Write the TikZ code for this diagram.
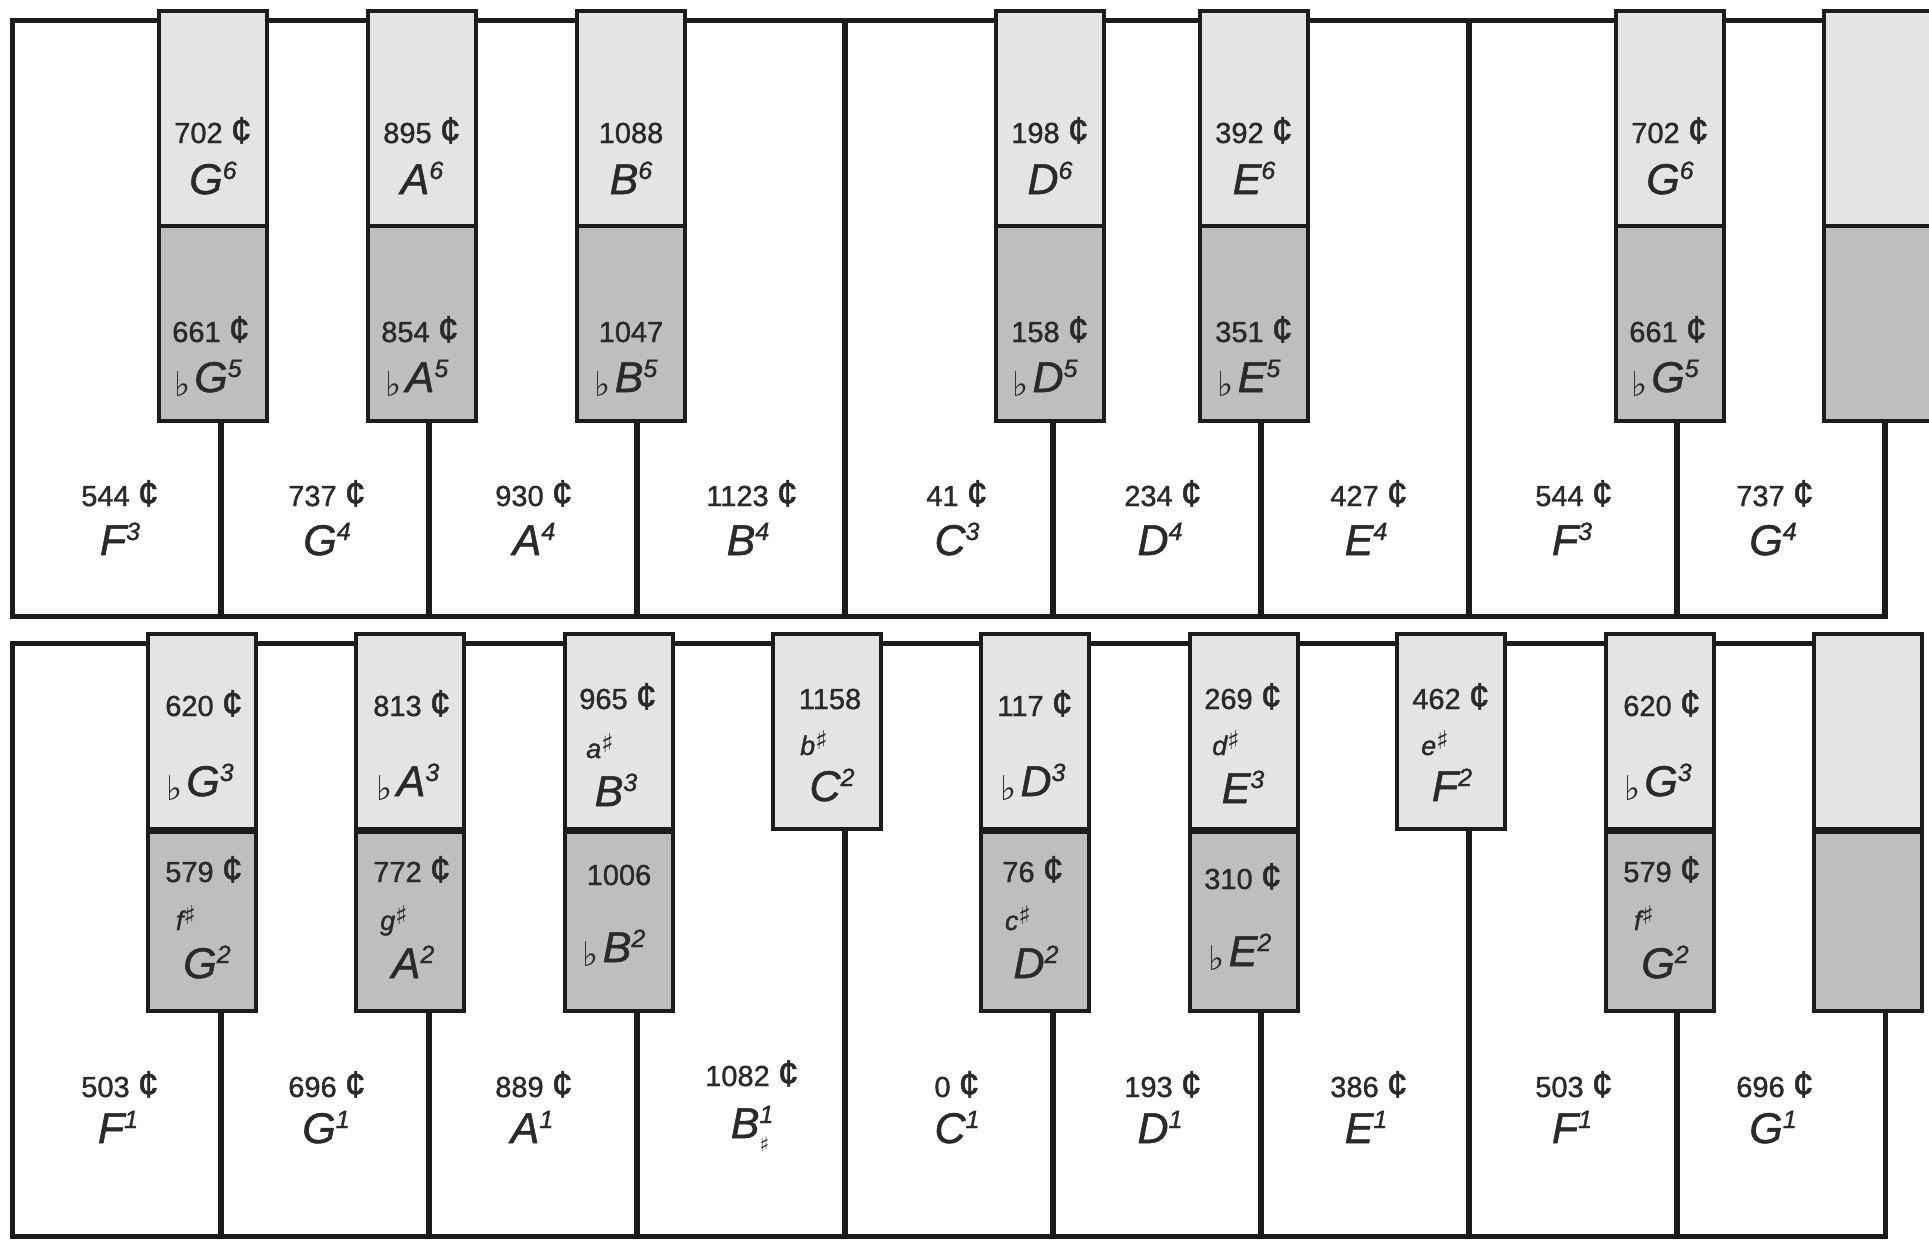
\documentclass[tikz,border=0pt]{standalone}
\usepackage{fontspec}
\usepackage{graphicx}
\setmainfont{Liberation Sans}[
  BoldFont=Liberation Sans, BoldFeatures={FakeBold=1.2},
  BoldItalicFont=Liberation Sans Italic, BoldItalicFeatures={FakeBold=1.2}]
\newfontfamily\symf{DejaVu Sans}
\definecolor{lightk}{HTML}{E4E4E4}
\definecolor{darkk}{HTML}{BEBEBE}
\definecolor{ink}{HTML}{2A2A2A}
\definecolor{edge}{HTML}{1C1C1C}
% cents value
\newcommand\cv[1]{#1 \scalebox{1.3}{¢}}
% note letter with octave superscript
\newcommand\nt[2]{{\fontsize{43}{43}\selectfont\itshape #1}\raisebox{15pt}{\fontsize{25}{25}\selectfont\itshape #2}}
% flat sign before a note
\newcommand\flt{\raisebox{-4pt}{\symf\fontsize{34}{34}\selectfont ♭}\hspace{4pt}}
% small sharp name
\newcommand\shp[1]{{\fontsize{27}{27}\selectfont\itshape #1}\raisebox{6pt}{\symf\fontsize{26}{26}\selectfont ♯}}
\tikzset{
  frame/.style={draw=edge, line width=5pt},
  sepline/.style={draw=edge, line width=6pt},
  lighthalf/.style={draw=edge, line width=4.5pt, fill=lightk},
  darkhalf/.style={draw=edge, line width=4.5pt, fill=darkk},
  midline/.style={draw=edge, line width=7pt},
  cents/.style={anchor=base, inner sep=0pt, text=ink, font=\fontsize{29}{29}\selectfont\bfseries},
  note/.style={anchor=base, inner sep=0pt, text=ink, font=\bfseries},
}
\begin{document}
\begin{tikzpicture}[x=1pt,y=-1pt]
\useasboundingbox (0,0) rectangle (1929,1239);
\fill[white] (0,0) rectangle (1929,1239);

% ================= TOP KEYBOARD =================
\draw[frame] (12.5,21) rectangle (1885.4,616);
\draw[sepline] (844.9,21) -- (844.9,616);
\draw[sepline] (1469.2,21) -- (1469.2,616);
\foreach \b in {220.6,428.7,636.8,1053.0,1261.1,1677.3,1885.4}
  \draw[sepline] (\b,421) -- (\b,616);
% black keys (top)
\foreach \c in {213,422,631,1050,1254,1670,1878}{
  \path[lighthalf] (\c-54,11) rectangle (\c+54,226);
  \path[darkhalf] (\c-54,226) rectangle (\c+54,421);
}

% top black key texts
\node[cents] (t1a) at (213,143) {\cv{702}};
\node[note]  (t1b) at (213,194) {\nt{G}{6}};
\node[cents] (t1c) at (211,342) {\cv{661}};
\node[note]  (t1d) at (208,392) {\flt\nt{G}{5}};

\node[cents] (t2a) at (422,143) {\cv{895}};
\node[note]  (t2b) at (422,194) {\nt{A}{6}};
\node[cents] (t2c) at (420,342) {\cv{854}};
\node[note]  (t2d) at (417,392) {\flt\nt{A}{5}};

\node[cents] (t3a) at (631,143) {1088};
\node[note]  (t3b) at (631,194) {\nt{B}{6}};
\node[cents] (t3c) at (631,342) {1047};
\node[note]  (t3d) at (626,392) {\flt\nt{B}{5}};

\node[cents] (t4a) at (1050,143) {\cv{198}};
\node[note]  (t4b) at (1050,194) {\nt{D}{6}};
\node[cents] (t4c) at (1050,342) {\cv{158}};
\node[note]  (t4d) at (1045,392) {\flt\nt{D}{5}};

\node[cents] (t5a) at (1254,143) {\cv{392}};
\node[note]  (t5b) at (1254,194) {\nt{E}{6}};
\node[cents] (t5c) at (1254,342) {\cv{351}};
\node[note]  (t5d) at (1249,392) {\flt\nt{E}{5}};

\node[cents] (t6a) at (1670,143) {\cv{702}};
\node[note]  (t6b) at (1670,194) {\nt{G}{6}};
\node[cents] (t6c) at (1668,342) {\cv{661}};
\node[note]  (t6d) at (1665,392) {\flt\nt{G}{5}};

% top white key texts
\node[cents] (w1a) at (120,506) {\cv{544}};
\node[note]  (w1b) at (120,555) {\nt{F}{3}};
\node[cents] (w2a) at (327,506) {\cv{737}};
\node[note]  (w2b) at (327,555) {\nt{G}{4}};
\node[cents] (w3a) at (534,506) {\cv{930}};
\node[note]  (w3b) at (534,555) {\nt{A}{4}};
\node[cents] (w4a) at (752,506) {\cv{1123}};
\node[note]  (w4b) at (748,555) {\nt{B}{4}};
\node[cents] (w5a) at (957,506) {\cv{41}};
\node[note]  (w5b) at (957,555) {\nt{C}{3}};
\node[cents] (w6a) at (1163,506) {\cv{234}};
\node[note]  (w6b) at (1160,555) {\nt{D}{4}};
\node[cents] (w7a) at (1369,506) {\cv{427}};
\node[note]  (w7b) at (1366,555) {\nt{E}{4}};
\node[cents] (w8a) at (1574,506) {\cv{544}};
\node[note]  (w8b) at (1572,555) {\nt{F}{3}};
\node[cents] (w9a) at (1775,506) {\cv{737}};
\node[note]  (w9b) at (1773,555) {\nt{G}{4}};

% ================= BOTTOM KEYBOARD =================
\draw[frame] (12.5,643) rectangle (1885.4,1236);
\foreach \b in {220.6,428.7,636.8,1053.0,1261.1,1677.3}
  \draw[sepline] (\b,1011) -- (\b,1236);
\foreach \b in {844.9,1469.2}
  \draw[sepline] (\b,829) -- (\b,1236);
% double black keys (bottom)
\foreach \c in {202,410,619,1035,1244,1660,1868}{
  \path[lighthalf] (\c-54,634) rectangle (\c+54,830);
  \path[darkhalf] (\c-54,830) rectangle (\c+54,1011);
  \draw[midline] (\c-54,830) -- (\c+54,830);
}
% single keys (bottom)
\foreach \c in {827,1451}
  \path[lighthalf] (\c-54,634) rectangle (\c+54,829);

% bottom black key texts
\node[cents] (b1a) at (204,716) {\cv{620}};
\node[note]  (b1b) at (200,796) {\flt\nt{G}{3}};
\node[cents] (b1c) at (204,882) {\cv{579}};
\node[note]  (b1d) at (186,930) {\shp{f}};
\node[note]  (b1e) at (207,978) {\nt{G}{2}};

\node[cents] (b2a) at (412,716) {\cv{813}};
\node[note]  (b2b) at (408,796) {\flt\nt{A}{3}};
\node[cents] (b2c) at (412,882) {\cv{772}};
\node[note]  (b2d) at (394,930) {\shp{g}};
\node[note]  (b2e) at (413,978) {\nt{A}{2}};

\node[cents] (b3a) at (618,709) {\cv{965}};
\node[note]  (b3b) at (600,758) {\shp{a}};
\node[note]  (b3c) at (616,806) {\nt{B}{3}};
\node[cents] (b3d) at (619,885) {1006};
\node[note]  (b3e) at (614,962) {\flt\nt{B}{2}};

\node[cents] (b4a) at (830,709) {1158};
\node[note]  (b4b) at (814,755) {\shp{b}};
\node[note]  (b4c) at (832,801) {\nt{C}{2}};

\node[cents] (b5a) at (1035,716) {\cv{117}};
\node[note]  (b5b) at (1033,796) {\flt\nt{D}{3}};
\node[cents] (b5c) at (1033,882) {\cv{76}};
\node[note]  (b5d) at (1018,930) {\shp{c}};
\node[note]  (b5e) at (1036,978) {\nt{D}{2}};

\node[cents] (b6a) at (1243,709) {\cv{269}};
\node[note]  (b6b) at (1226,755) {\shp{d}};
\node[note]  (b6c) at (1243,803) {\nt{E}{3}};
\node[cents] (b6d) at (1243,889) {\cv{310}};
\node[note]  (b6e) at (1240,966) {\flt\nt{E}{2}};

\node[cents] (b7a) at (1451,709) {\cv{462}};
\node[note]  (b7b) at (1435,755) {\shp{e}};
\node[note]  (b7c) at (1452,801) {\nt{F}{2}};

\node[cents] (b8a) at (1662,716) {\cv{620}};
\node[note]  (b8b) at (1658,796) {\flt\nt{G}{3}};
\node[cents] (b8c) at (1662,882) {\cv{579}};
\node[note]  (b8d) at (1644,930) {\shp{f}};
\node[note]  (b8e) at (1665,978) {\nt{G}{2}};

% bottom white key texts
\node[cents] (v1a) at (120,1097) {\cv{503}};
\node[note]  (v1b) at (118,1143) {\nt{F}{1}};
\node[cents] (v2a) at (327,1097) {\cv{696}};
\node[note]  (v2b) at (326,1143) {\nt{G}{1}};
\node[cents] (v3a) at (534,1097) {\cv{889}};
\node[note]  (v3b) at (532,1143) {\nt{A}{1}};
\node[cents] (v4a) at (752,1086) {\cv{1082}};
\node[note]  (v4b) at (750,1138) {{\fontsize{43}{43}\selectfont\itshape B}\rlap{\raisebox{15pt}{\fontsize{25}{25}\selectfont\itshape 1}}\raisebox{-13pt}{\symf\fontsize{20}{20}\selectfont ♯}};
\node[cents] (v5a) at (957,1097) {\cv{0}};
\node[note]  (v5b) at (957,1143) {\nt{C}{1}};
\node[cents] (v6a) at (1163,1097) {\cv{193}};
\node[note]  (v6b) at (1160,1143) {\nt{D}{1}};
\node[cents] (v7a) at (1369,1097) {\cv{386}};
\node[note]  (v7b) at (1366,1143) {\nt{E}{1}};
\node[cents] (v8a) at (1574,1097) {\cv{503}};
\node[note]  (v8b) at (1572,1143) {\nt{F}{1}};
\node[cents] (v9a) at (1775,1097) {\cv{696}};
\node[note]  (v9b) at (1773,1143) {\nt{G}{1}};
\end{tikzpicture}
\end{document}
